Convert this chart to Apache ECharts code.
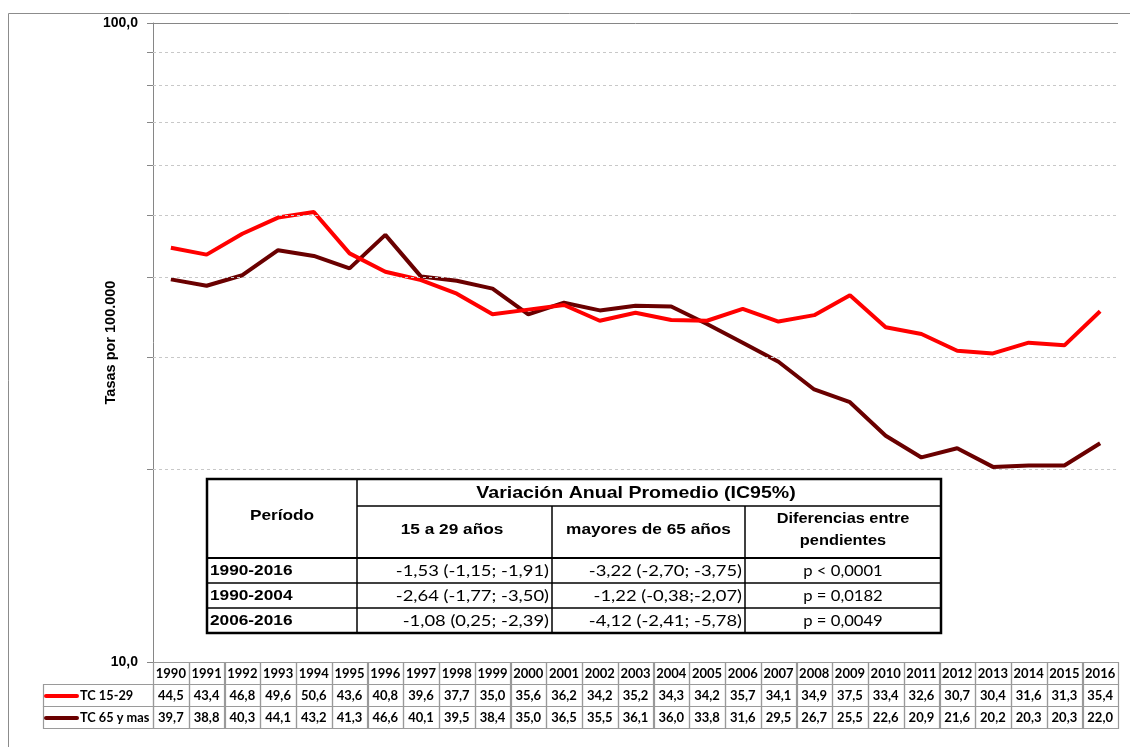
<!DOCTYPE html>
<html><head><meta charset="utf-8">
<script src="https://cdn.jsdelivr.net/npm/echarts@6/dist/echarts.min.js"></script>
<style>html,body{margin:0;padding:0;background:#fff}#c{width:1130px;height:747px}</style>
</head><body><div id="c"></div>
<script>
const years = ['1990','1991','1992','1993','1994','1995','1996','1997','1998','1999','2000','2001','2002','2003','2004','2005','2006','2007','2008','2009','2010','2011','2012','2013','2014','2015','2016'];
const tc1529 = [44.5,43.4,46.8,49.6,50.6,43.6,40.8,39.6,37.7,35.0,35.6,36.2,34.2,35.2,34.3,34.2,35.7,34.1,34.9,37.5,33.4,32.6,30.7,30.4,31.6,31.3,35.4];
const tc65 = [39.7,38.8,40.3,44.1,43.2,41.3,46.6,40.1,39.5,38.4,35.0,36.5,35.5,36.1,36.0,33.8,31.6,29.5,26.7,25.5,22.6,20.9,21.6,20.2,20.3,20.3,22.0];
const seriesNames = ['TC 15-29', 'TC 65 y mas'];
const seriesColors = ['#ff0000', '#6a0000'];
const gridValues = [20,30,40,50,60,70,80,90];
const tickValues = [10,20,30,40,50,60,70,80,90,100];
const yLabelValues = [10,100];
const yTitle = 'Tasas por 100.000';
const tableTitle = 'Variación Anual Promedio (IC95%)';
const tableHeadPeriod = 'Período';
const tableHead1529 = '15 a 29 años';
const tableHead65 = 'mayores de 65 años';
const tableHeadDiff = ['Diferencias entre', 'pendientes'];
const tablePeriods = ['1990-2016','1990-2004','2006-2016'];
const table1529 = ['-1,53 (-1,15; -1,91)','-2,64 (-1,77; -3,50)','-1,08 (0,25; -2,39)'];
const table65 = ['-3,22 (-2,70; -3,75)','-1,22 (-0,38;-2,07)','-4,12 (-2,41; -5,78)'];
const tableP = ['p < 0,0001','p = 0,0182','p = 0,0049'];

const fmt = v => v.toFixed(1).replace('.', ',');
const chart = echarts.init(document.getElementById('c'), null, {renderer: 'canvas'});
const AX = '#868686';
chart.setOption({
  animation: false,
  grid: {left: 153, right: 12, top: 23, bottom: 85},
  xAxis: {
    type: 'category', data: years, boundaryGap: true,
    axisLine: {show: true, lineStyle: {color: AX, width: 1}},
    axisTick: {show: false}, axisLabel: {show: false}, splitLine: {show: false}
  },
  yAxis: {
    type: 'log', logBase: 10, min: 10, max: 100,
    name: yTitle, nameLocation: 'middle', nameGap: 35, nameRotate: 90, nameMoveOverlap: false,
    nameTextStyle: {fontFamily: 'Liberation Sans', fontWeight: 'bold', fontSize: 14.5, color: '#000'},
    axisLine: {show: true, lineStyle: {color: AX, width: 1}},
    axisTick: {show: true, customValues: tickValues, length: 6, lineStyle: {color: AX}},
    axisLabel: {customValues: yLabelValues, formatter: v => fmt(v), fontFamily: 'Liberation Sans', fontWeight: 'bold', fontSize: 14, color: '#000', margin: 15},
    splitLine: {show: false}, minorTick: {show: false}
  },
  series: [
    {type: 'line', data: [], z: 1, silent: true,
     markLine: {silent: true, symbol: 'none', label: {show: false},
       lineStyle: {type: [3, 3], color: '#c8c8c8', width: 1},
       data: gridValues.map(v => ({yAxis: v})).concat([{yAxis: 100, lineStyle: {type: 'solid', color: AX, width: 1}}])}},
    {name: seriesNames[0], type: 'line', data: tc1529, symbol: 'none', z: 3, lineStyle: {width: 4, color: seriesColors[0]}, itemStyle: {color: seriesColors[0]}},
    {name: seriesNames[1], type: 'line', data: tc65, symbol: 'none', z: 2, lineStyle: {width: 4, color: seriesColors[1]}, itemStyle: {color: seriesColors[1]}}
  ]
});

const els = [];
const c0 = chart.convertToPixel({xAxisIndex: 0}, 0);
const c1 = chart.convertToPixel({xAxisIndex: 0}, 1);
const band = c1 - c0;
const rowTop = 662, rowH = 22;
const gray = '#9a9a9a';
const cellFont = 'bold 13px Lato';
function txt(text, x, y, font, align, sx) {
  return {type: 'text', silent: true, z: 10, x, y, scaleX: sx || 1,
    style: {text, x: 0, y: 0, font, fill: '#000', align: align || 'center', textAlign: align || 'center', verticalAlign: 'middle', textVerticalAlign: 'middle'}};
}
function rect(x, y, w, h, stroke, lw) {
  return {type: 'rect', silent: true, z: 9, shape: {x, y, width: w, height: h}, style: {fill: 'none', stroke, lineWidth: lw}};
}
function line(x1, y1, x2, y2, stroke, lw) {
  return {type: 'line', silent: true, z: 11, shape: {x1, y1, x2, y2}, style: {stroke, lineWidth: lw}};
}
const rows = [tc1529, tc65];
years.forEach((yr, i) => {
  const cx = chart.convertToPixel({xAxisIndex: 0}, i);
  const left = Math.round(cx - band / 2) + 0.5;
  const w = Math.round(band);
  els.push(rect(left, rowTop + 0.5, w, rowH, gray, 1.2));
  els.push(txt(yr, cx, rowTop + rowH / 2 + 1, cellFont));
  rows.forEach((arr, r) => {
    els.push(rect(left, rowTop + rowH * (r + 1) + 0.5, w, rowH, gray, 1.2));
    els.push(txt(fmt(arr[i]), cx, rowTop + rowH * (r + 1.5) + 1, cellFont));
  });
});
const legLeft = 43.5, legW = 153 - 43;
seriesNames.forEach((n, r) => {
  const y = rowTop + rowH * (r + 1);
  els.push(rect(legLeft, y + 0.5, legW, rowH, gray, 1.2));
  els.push({type: 'line', silent: true, z: 11, shape: {x1: 46, y1: y + rowH / 2 + 1, x2: 77, y2: y + rowH / 2 + 1}, style: {stroke: seriesColors[r], lineWidth: 4, lineCap: 'round'}});
  els.push(txt(n, 80, y + rowH / 2 + 1, cellFont, 'left', 0.98));
});
els.push(rect(8.5, 13.5, 1140, 800, '#8c8c8c', 1));

const T = {x1: 207, x2: 941, y1: 479, y2: 633, cA: 357, cB: 552, cC: 745, h1: 506, h2: 558, r1: 583, r2: 608};
els.push({type: 'rect', silent: true, z: 8, shape: {x: T.x1, y: T.y1, width: T.x2 - T.x1, height: T.y2 - T.y1}, style: {fill: '#fff', stroke: 'none'}});
els.push(rect(T.x1, T.y1, T.x2 - T.x1, T.y2 - T.y1, '#000', 2.5));
els.push(line(T.cA, T.h1, T.x2, T.h1, '#000', 1.5));
els.push(line(T.x1, T.h2, T.x2, T.h2, '#000', 2));
els.push(line(T.x1, T.r1, T.x2, T.r1, '#000', 1.5));
els.push(line(T.x1, T.r2, T.x2, T.r2, '#000', 1.5));
els.push(line(T.cA, T.y1, T.cA, T.y2, '#000', 1.5));
els.push(line(T.cB, T.h1, T.cB, T.y2, '#000', 1.5));
els.push(line(T.cC, T.h1, T.cC, T.y2, '#000', 1.5));
const hFont = 'bold 15px Liberation Sans';
const SX = 1.15;
els.push(txt(tableHeadPeriod, (T.x1 + T.cA) / 2, 516, hFont, 'center', SX));
els.push(txt(tableTitle, 636, 493, 'bold 17px Liberation Sans', 'center', SX));
els.push(txt(tableHead1529, 452, 530, hFont, 'center', SX));
els.push(txt(tableHead65, (T.cB + T.cC) / 2, 530, hFont, 'center', SX));
els.push(txt(tableHeadDiff[0], (T.cC + T.x2) / 2, 519, hFont, 'center', 1.09));
els.push(txt(tableHeadDiff[1], (T.cC + T.x2) / 2, 541, hFont, 'center', 1.09));
const rowY = [571, 596, 621];
const vFont = '16px Lato';
tablePeriods.forEach((p, r) => {
  els.push(txt(p, T.x1 + 3, rowY[r], hFont, 'left', SX));
  els.push(txt(table1529[r], T.cB - 3, rowY[r], vFont, 'right', SX));
  els.push(txt(table65[r], T.cC - 3, rowY[r], vFont, 'right', SX));
  els.push(txt(tableP[r], (T.cC + T.x2) / 2, rowY[r], vFont, 'center', 1.04));
});
chart.setOption({graphic: {elements: els}});
</script>
</body></html>
